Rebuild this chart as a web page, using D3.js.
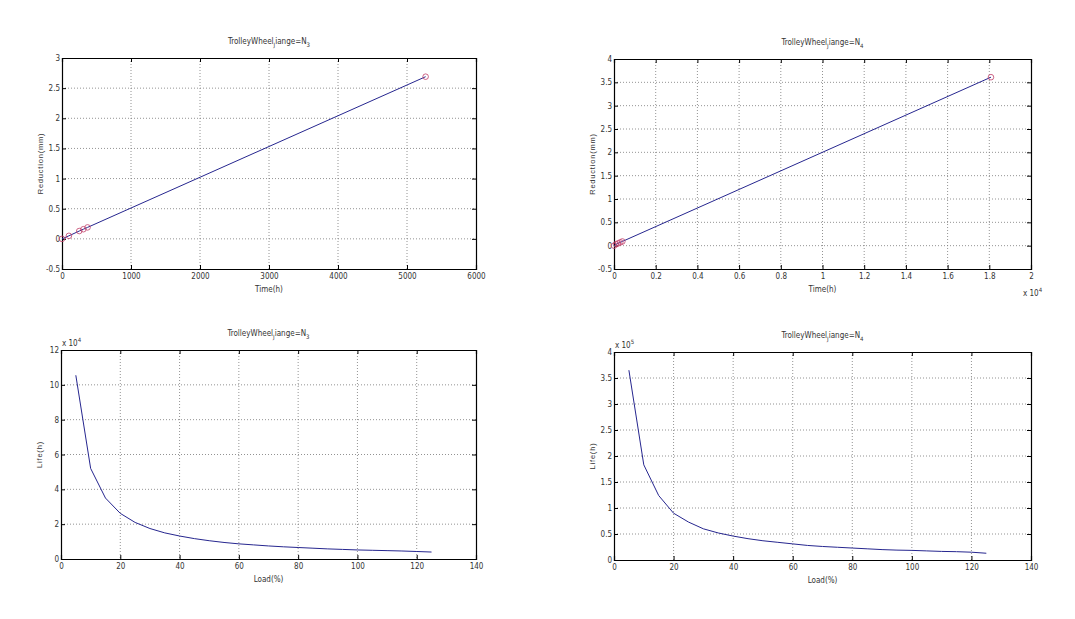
<!DOCTYPE html>
<html>
<head>
<meta charset="utf-8">
<script src="https://cdn.jsdelivr.net/npm/d3@7"></script>
<style>
  body { margin: 0; background: #fff; }
  svg { display: block; }
  text { font-family: "DejaVu Sans Condensed", "Liberation Sans Narrow", "Liberation Sans", Arial, sans-serif; font-stretch: condensed; fill: #333; }
</style>
</head>
<body>
<div id="chart"></div>
<script>
// top row: reduction vs time
const timeN3 = [0, 100, 250, 310, 370, 5270];
const reductionN3 = [0, 0.05, 0.13, 0.16, 0.19, 2.69];
const timeN4 = [0, 100, 200, 300, 400, 18080];
const reductionN4 = [0, 0.03, 0.05, 0.07, 0.09, 3.61];

// bottom row: life vs load
const loadPct = [5, 10, 15, 20, 25, 30, 35, 40, 45, 50, 55, 60, 65, 70, 75, 80, 85, 90, 95, 100, 105, 110, 115, 120, 125];
const lifeN3 = [10.55, 5.2, 3.5, 2.62, 2.1, 1.75, 1.5, 1.32, 1.17, 1.05, 0.95, 0.87, 0.81, 0.75, 0.7, 0.66, 0.62, 0.58, 0.55, 0.52, 0.5, 0.48, 0.46, 0.43, 0.4];
const lifeN4 = [3.65, 1.83, 1.24, 0.9, 0.73, 0.6, 0.52, 0.46, 0.41, 0.37, 0.34, 0.31, 0.28, 0.26, 0.245, 0.23, 0.215, 0.2, 0.19, 0.185, 0.175, 0.165, 0.16, 0.15, 0.13];

const xTicksTimeN3 = [0, 1000, 2000, 3000, 4000, 5000, 6000];
const yTicksRedN3 = [-0.5, 0, 0.5, 1, 1.5, 2, 2.5, 3];
const xTicksTimeN4 = [0, 0.2, 0.4, 0.6, 0.8, 1, 1.2, 1.4, 1.6, 1.8, 2];
const yTicksRedN4 = [-0.5, 0, 0.5, 1, 1.5, 2, 2.5, 3, 3.5, 4];
const xTicksLoad = [0, 20, 40, 60, 80, 100, 120, 140];
const yTicksLifeN3 = [0, 2, 4, 6, 8, 10, 12];
const yTicksLifeN4 = [0, 0.5, 1, 1.5, 2, 2.5, 3, 3.5, 4];

const W = 1075, H = 619;
const svg = d3.select('#chart').append('svg').attr('width', W).attr('height', H);

const panels = [
  { box: [62, 58, 476, 269], xDomain: [0, 6000], yDomain: [-0.5, 3], xTicks: xTicksTimeN3, yTicks: yTicksRedN3,
    xs: timeN3, ys: reductionN3, xScaleDiv: 1, markers: true, sub: '3', xLabel: 'Time(h)', yLabel: 'Reduction(mm)' },
  { box: [614, 59, 1031, 269], xDomain: [0, 2], yDomain: [-0.5, 4], xTicks: xTicksTimeN4, yTicks: yTicksRedN4,
    xs: timeN4, ys: reductionN4, xScaleDiv: 1e4, markers: true, sub: '4', xLabel: 'Time(h)', yLabel: 'Reduction(mm)', xExp: '4' },
  { box: [61, 350, 476, 559], xDomain: [0, 140], yDomain: [0, 12], xTicks: xTicksLoad, yTicks: yTicksLifeN3,
    xs: loadPct, ys: lifeN3, xScaleDiv: 1, markers: false, sub: '3', xLabel: 'Load(%)', yLabel: 'Life(h)', yExp: '4' },
  { box: [614, 352, 1031, 560], xDomain: [0, 140], yDomain: [0, 4], xTicks: xTicksLoad, yTicks: yTicksLifeN4,
    xs: loadPct, ys: lifeN4, xScaleDiv: 1, markers: false, sub: '4', xLabel: 'Load(%)', yLabel: 'Life(h)', yExp: '5' }
];

panels.forEach(drawPanel);

function drawPanel(p) {
  const [x0, y0, x1, y1] = p.box;
  const x = d3.scaleLinear().domain(p.xDomain).range([x0, x1]);
  const y = d3.scaleLinear().domain(p.yDomain).range([y1, y0]);
  const g = svg.append('g');

  // grid
  g.selectAll('.gx').data(p.xTicks.slice(1, -1)).join('line')
    .attr('x1', d => x(d)).attr('x2', d => x(d)).attr('y1', y0).attr('y2', y1)
    .attr('stroke', '#777').attr('stroke-width', 0.8).attr('stroke-dasharray', '1,2');
  g.selectAll('.gy').data(p.yTicks.slice(1, -1)).join('line')
    .attr('y1', d => y(d)).attr('y2', d => y(d)).attr('x1', x0).attr('x2', x1)
    .attr('stroke', '#777').attr('stroke-width', 0.8).attr('stroke-dasharray', '1,2');

  // axes, ticks inside
  const fmt = d => String(d);
  g.append('g').attr('transform', `translate(0,${y1})`)
    .call(d3.axisBottom(x).tickValues(p.xTicks).tickSize(-4).tickPadding(4).tickFormat(fmt));
  g.append('g').attr('transform', `translate(0,${y0})`)
    .call(d3.axisTop(x).tickValues(p.xTicks).tickSize(-4).tickFormat(''));
  g.append('g').attr('transform', `translate(${x0},0)`)
    .call(d3.axisLeft(y).tickValues(p.yTicks).tickSize(-4).tickPadding(2).tickFormat(fmt));
  g.append('g').attr('transform', `translate(${x1},0)`)
    .call(d3.axisRight(y).tickValues(p.yTicks).tickSize(-4).tickFormat(''));
  g.selectAll('.domain').attr('stroke', '#000').attr('stroke-width', 1.2);
  g.selectAll('.tick line').attr('stroke', '#000');
  g.selectAll('.tick text').attr('font-size', 8).attr('font-family', null).attr('fill', '#333');

  // series
  const pts = p.xs.map((v, i) => [v / p.xScaleDiv, p.ys[i]]);
  const line = d3.line().x(d => x(d[0])).y(d => y(d[1]));
  g.append('path').datum(pts).attr('d', line)
    .attr('fill', 'none').attr('stroke', '#26268f').attr('stroke-width', 1);
  if (p.markers) {
    g.selectAll('.mk').data(pts).join('circle')
      .attr('cx', d => x(d[0])).attr('cy', d => y(d[1])).attr('r', 2.8)
      .attr('fill', 'none').attr('stroke', '#c2406a').attr('stroke-width', 0.8);
  }

  // title
  const t = g.append('text').attr('x', (x0 + x1) / 2).attr('y', y0 - 14)
    .attr('text-anchor', 'middle').attr('font-size', 8);
  t.append('tspan').text('TrolleyWheel');
  t.append('tspan').attr('dy', 3).attr('font-size', 6).text('J');
  t.append('tspan').attr('dy', -3).text('iange=N');
  t.append('tspan').attr('dy', 3).attr('font-size', 6).text(p.sub);

  // axis labels
  g.append('text').attr('x', (x0 + x1) / 2).attr('y', y1 + 23)
    .attr('text-anchor', 'middle').attr('font-size', 8).text(p.xLabel);
  g.append('text').attr('transform', `translate(${x0 - 19},${(y0 + y1) / 2}) rotate(-90)`)
    .attr('text-anchor', 'middle').attr('font-size', 7.5).attr('letter-spacing', 0.8)
    .style('font-family', '"Liberation Sans", Arial, sans-serif').text(p.yLabel);

  // exponent labels
  if (p.yExp) {
    const e = g.append('text').attr('x', x0 + 1).attr('y', y0 - 4).attr('font-size', 8);
    e.append('tspan').text('x 10');
    e.append('tspan').attr('dy', -4).attr('font-size', 6).text(p.yExp);
  }
  if (p.xExp) {
    const e = g.append('text').attr('x', x1 - 8).attr('y', y1 + 27).attr('font-size', 8);
    e.append('tspan').text('x 10');
    e.append('tspan').attr('dy', -4).attr('font-size', 6).text(p.xExp);
  }
}
</script>
</body>
</html>
